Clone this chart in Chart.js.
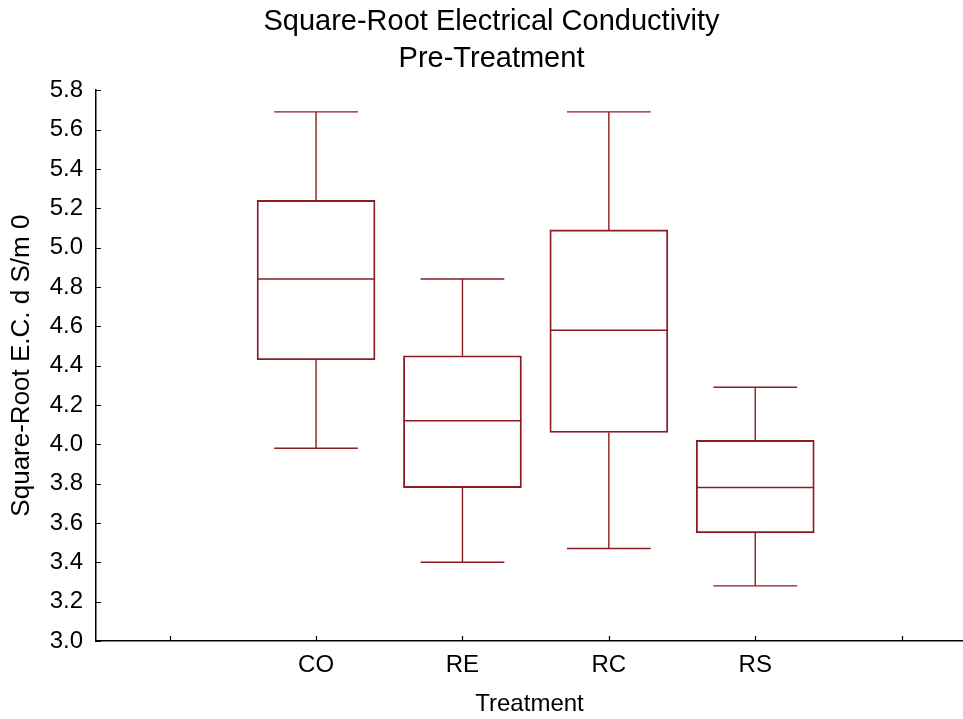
<!DOCTYPE html>
<html>
<head>
<meta charset="utf-8">
<script src="https://cdn.jsdelivr.net/npm/chart.js@4"></script>
<style>
  html, body { margin: 0; padding: 0; background: #ffffff; }
  canvas { display: block; }
</style>
</head>
<body>
<canvas id="c" width="963" height="719"></canvas>
<script>
// ---- data ----
const categories = ['CO', 'RE', 'RC', 'RS'];
const positions  = [1, 2, 3, 4];
const whiskerLow  = [3.98, 3.40, 3.47, 3.28];
const quartile1   = [4.43, 3.78, 4.06, 3.55];
const medians     = [4.84, 4.12, 4.58, 3.78];
const quartile3   = [5.24, 4.45, 5.09, 4.02];
const whiskerHigh = [5.69, 4.84, 5.69, 4.29];
const yTickValues = [3.0, 3.2, 3.4, 3.6, 3.8, 4.0, 4.2, 4.4, 4.6, 4.8, 5.0, 5.2, 5.4, 5.6, 5.8];
const xTickValues = [0, 1, 2, 3, 4, 5];

const boxColor = '#8b1c24';
const FONT = '"Liberation Sans", Arial, sans-serif';

const boxData = positions.map((p, i) => ({ x: p, y: [quartile1[i], quartile3[i]] }));

const boxPlotPlugin = {
  id: 'boxWhiskers',
  afterDatasetsDraw(chart) {
    const { ctx, scales: { x, y } } = chart;
    const meta = chart.getDatasetMeta(0);
    ctx.save();
    ctx.strokeStyle = boxColor;
    ctx.lineWidth = 1.4;
    positions.forEach((p, i) => {
      const bar = meta.data[i];
      const half = bar.width / 2;
      const capHalf = half * 0.71;
      const cx = x.getPixelForValue(p);
      const yMed = y.getPixelForValue(medians[i]);
      const yQ1 = y.getPixelForValue(quartile1[i]);
      const yQ3 = y.getPixelForValue(quartile3[i]);
      const yLo = y.getPixelForValue(whiskerLow[i]);
      const yHi = y.getPixelForValue(whiskerHigh[i]);
      ctx.beginPath();
      // median
      ctx.moveTo(cx - half, yMed); ctx.lineTo(cx + half, yMed);
      // upper whisker
      ctx.moveTo(cx, yQ3); ctx.lineTo(cx, yHi);
      ctx.moveTo(cx - capHalf, yHi); ctx.lineTo(cx + capHalf, yHi);
      // lower whisker
      ctx.moveTo(cx, yQ1); ctx.lineTo(cx, yLo);
      ctx.moveTo(cx - capHalf, yLo); ctx.lineTo(cx + capHalf, yLo);
      ctx.stroke();
    });
    ctx.restore();
  },
  afterDraw(chart) {
    // inward tick marks
    const { ctx, scales: { x, y } } = chart;
    ctx.save();
    ctx.strokeStyle = '#000';
    ctx.lineWidth = 1.2;
    ctx.beginPath();
    y.ticks.forEach(t => {
      const py = Math.round(y.getPixelForValue(t.value)) + 0.5;
      ctx.moveTo(y.right, py); ctx.lineTo(y.right + 5, py);
    });
    x.ticks.forEach(t => {
      const px = Math.round(x.getPixelForValue(t.value)) + 0.5;
      ctx.moveTo(px, x.top); ctx.lineTo(px, x.top - 5);
    });
    ctx.stroke();
    ctx.restore();
  }
};

new Chart(document.getElementById('c'), {
  type: 'bar',
  data: {
    datasets: [{
      data: boxData,
      backgroundColor: 'rgba(0,0,0,0)',
      borderColor: boxColor,
      borderWidth: 1.2,
      borderSkipped: false,
      barThickness: 118
    }]
  },
  options: {
    responsive: false,
    animation: false,
    layout: { padding: { left: 20, right: 0, top: 0, bottom: 0 } },
    plugins: {
      legend: { display: false },
      tooltip: { enabled: false },
      title: {
        display: true,
        text: ['Square-Root Electrical Conductivity', 'Pre-Treatment'],
        color: '#000',
        font: { family: FONT, size: 29, weight: 'normal', lineHeight: 1.28 },
        padding: { top: 3, bottom: 13 }
      }
    },
    scales: {
      x: {
        type: 'linear',
        offset: false,
        min: -0.503,
        max: 5.419,
        afterBuildTicks(scale) { scale.ticks = xTickValues.map(v => ({ value: v })); },
        afterFit(scale) { scale.height = 78; },
        grid: { display: false, drawTicks: false, offset: false },
        border: { display: true, color: '#000', width: 1.5 },
        ticks: {
          color: '#000',
          padding: 10,
          font: { family: FONT, size: 24 },
          maxRotation: 0,
          autoSkip: false,
          callback(v) { const i = positions.indexOf(v); return i >= 0 ? categories[i] : ''; }
        },
        title: {
          display: true,
          text: 'Treatment',
          color: '#000',
          font: { family: FONT, size: 24 },
          padding: { top: 0, bottom: 0 }
        }
      },
      y: {
        type: 'linear',
        min: 3.0,
        max: 5.8,
        afterBuildTicks(scale) { scale.ticks = yTickValues.map(v => ({ value: v })); },
        afterFit(scale) { scale.width = 76; },
        grid: { display: false, drawTicks: false },
        border: { display: true, color: '#000', width: 1.5 },
        ticks: {
          color: '#000',
          padding: 13,
          font: { family: FONT, size: 24 },
          autoSkip: false,
          callback(v) { return Number(v).toFixed(1); }
        },
        title: {
          display: true,
          text: 'Square-Root E.C. d S/m 0',
          color: '#000',
          font: { family: FONT, size: 26, lineHeight: 1.2 },
          padding: { top: -14, bottom: 0 }
        }
      }
    }
  },
  plugins: [boxPlotPlugin]
});
</script>
</body>
</html>
